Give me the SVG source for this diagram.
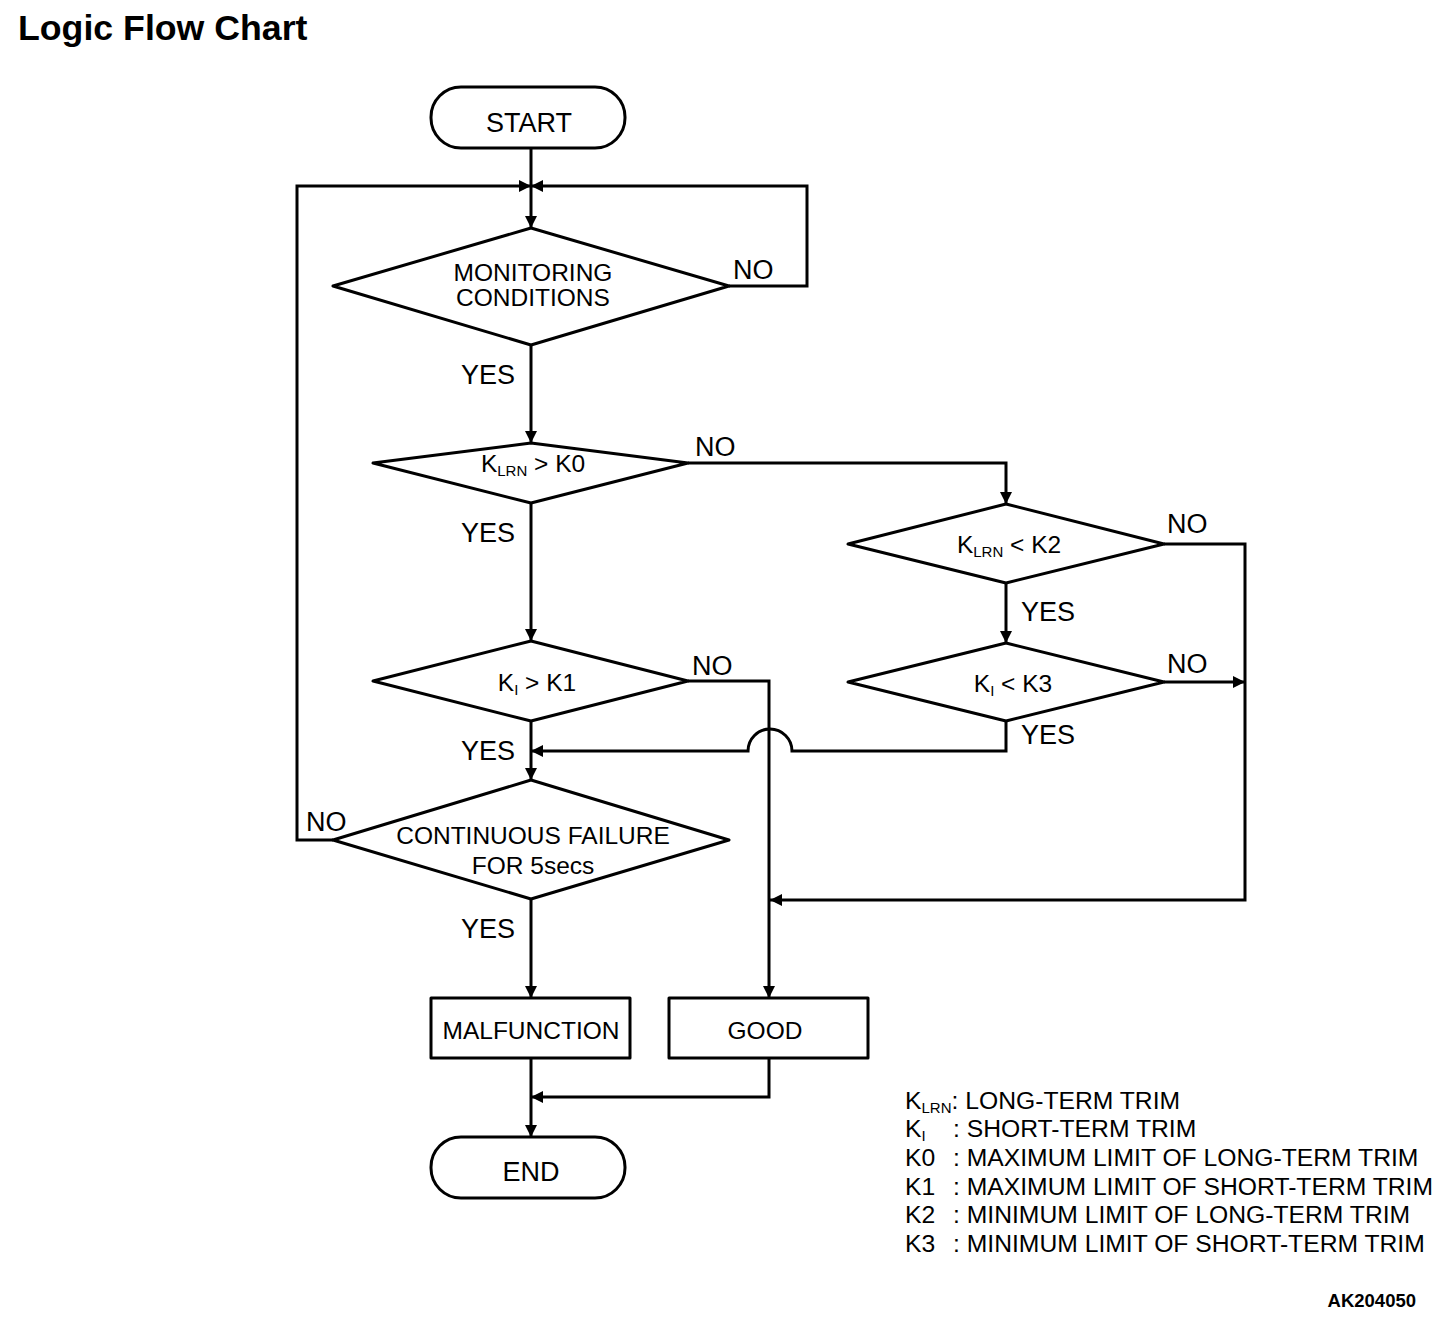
<svg xmlns="http://www.w3.org/2000/svg" width="1456" height="1320" viewBox="0 0 1456 1320">
<defs>
<marker id="arr" viewBox="0 0 10 10" refX="10" refY="5" markerWidth="14" markerHeight="12" markerUnits="userSpaceOnUse" orient="auto">
<path d="M0,0 L10,5 L0,10 z" fill="#000"/>
</marker>
</defs>
<style>
text{font-family:"Liberation Sans",Arial,Helvetica,sans-serif;fill:#000}
.shape{fill:#fff;stroke:#000;stroke-width:3;stroke-linejoin:round}
.c{fill:none;stroke:#000;stroke-width:3;marker-end:url(#arr)}
.nt{font-size:24.5px;text-anchor:middle}
.big{font-size:27px;text-anchor:middle}
.lbl{font-size:27px}
.leg{font-size:24.7px}
.sub{font-size:15px}
</style>
<rect width="1456" height="1320" fill="#fff"/>
<text x="18" y="40" style="font-size:35.7px;font-weight:bold">Logic Flow Chart</text>

<g id="connectors">
<path class="c" d="M531,148 V228"/>
<path class="c" d="M729,286 H807 V186 H531"/>
<path class="c" d="M333,840 H297 V186 H531"/>
<path class="c" d="M531,345 V443"/>
<path class="c" d="M688,463 H1006 V504"/>
<path class="c" d="M531,503 V641"/>
<path class="c" d="M1006,583 V643"/>
<path class="c" d="M1164,544 H1245 V900 H770"/>
<path class="c" d="M1164,682 H1245"/>
<path class="c" d="M1006,721 V751 H792 A22,22 0 0 0 748,751 H531"/>
<path class="c" d="M688,681 H769 V998"/>
<path class="c" d="M531,721 V780"/>
<path class="c" d="M531,899 V998"/>
<path class="c" d="M531,1058 V1137"/>
<path class="c" d="M769,1058 V1097 H531"/>
</g>

<g id="labels">
<text class="lbl" x="733" y="279">NO</text>
<text class="lbl" x="461" y="384">YES</text>
<text class="lbl" x="695" y="456">NO</text>
<text class="lbl" x="461" y="542">YES</text>
<text class="lbl" x="1167" y="533">NO</text>
<text class="lbl" x="1021" y="621">YES</text>
<text class="lbl" x="1167" y="673">NO</text>
<text class="lbl" x="1021" y="744">YES</text>
<text class="lbl" x="692" y="675">NO</text>
<text class="lbl" x="461" y="760">YES</text>
<text class="lbl" x="306" y="831">NO</text>
<text class="lbl" x="461" y="938">YES</text>
</g>

<g id="start">
<rect class="shape" x="431" y="87" width="194" height="61" rx="30" ry="30"/>
<text class="big" x="529" y="132">START</text>
</g>

<g id="monitoring">
<polygon class="shape" points="531,228 729,286 531,345 333,286"/>
<text class="nt" x="533" y="281">MONITORING</text>
<text class="nt" x="533" y="306">CONDITIONS</text>
</g>

<g id="klrn-k0">
<polygon class="shape" points="531,443 688,463 531,503 373,463"/>
<text class="nt" x="533" y="472">K<tspan class="sub" dy="4">LRN</tspan><tspan dy="-4"> &gt; K0</tspan></text>
</g>

<g id="klrn-k2">
<polygon class="shape" points="1006,504 1164,544 1006,583 848,544"/>
<text class="nt" x="1009" y="553">K<tspan class="sub" dy="4">LRN</tspan><tspan dy="-4"> &lt; K2</tspan></text>
</g>

<g id="ki-k1">
<polygon class="shape" points="531,641 688,681 531,721 373,681"/>
<text class="nt" x="537" y="691">K<tspan class="sub" dy="4">I</tspan><tspan dy="-4"> &gt; K1</tspan></text>
</g>

<g id="ki-k3">
<polygon class="shape" points="1006,643 1164,682 1006,721 848,682"/>
<text class="nt" x="1013" y="692">K<tspan class="sub" dy="4">I</tspan><tspan dy="-4"> &lt; K3</tspan></text>
</g>

<g id="continuous">
<polygon class="shape" points="531,780 729,840 531,899 333,840"/>
<text class="nt" x="533" y="844">CONTINUOUS FAILURE</text>
<text class="nt" x="533" y="874">FOR 5secs</text>
</g>

<g id="malfunction">
<rect class="shape" x="431" y="998" width="199" height="60"/>
<text class="nt" x="531" y="1039">MALFUNCTION</text>
</g>

<g id="good">
<rect class="shape" x="669" y="998" width="199" height="60"/>
<text class="nt" x="765" y="1039">GOOD</text>
</g>

<g id="end">
<rect class="shape" x="431" y="1137" width="194" height="61" rx="30" ry="30"/>
<text class="big" x="531" y="1181">END</text>
</g>

<g id="legend">
<text class="leg" x="905" y="1109">K<tspan class="sub" dy="4">LRN</tspan><tspan dy="-4">: LONG-TERM TRIM</tspan></text>
<text class="leg" x="905" y="1137">K<tspan class="sub" dy="4">I</tspan></text>
<text class="leg" x="953" y="1137">: SHORT-TERM TRIM</text>
<text class="leg" x="905" y="1166">K0</text>
<text class="leg" x="953" y="1166">: MAXIMUM LIMIT OF LONG-TERM TRIM</text>
<text class="leg" x="905" y="1195">K1</text>
<text class="leg" x="953" y="1195">: MAXIMUM LIMIT OF SHORT-TERM TRIM</text>
<text class="leg" x="905" y="1223">K2</text>
<text class="leg" x="953" y="1223">: MINIMUM LIMIT OF LONG-TERM TRIM</text>
<text class="leg" x="905" y="1252">K3</text>
<text class="leg" x="953" y="1252">: MINIMUM LIMIT OF SHORT-TERM TRIM</text>
</g>

<text x="1416" y="1307" style="font-size:18.5px;font-weight:bold;text-anchor:end">AK204050</text>
</svg>
